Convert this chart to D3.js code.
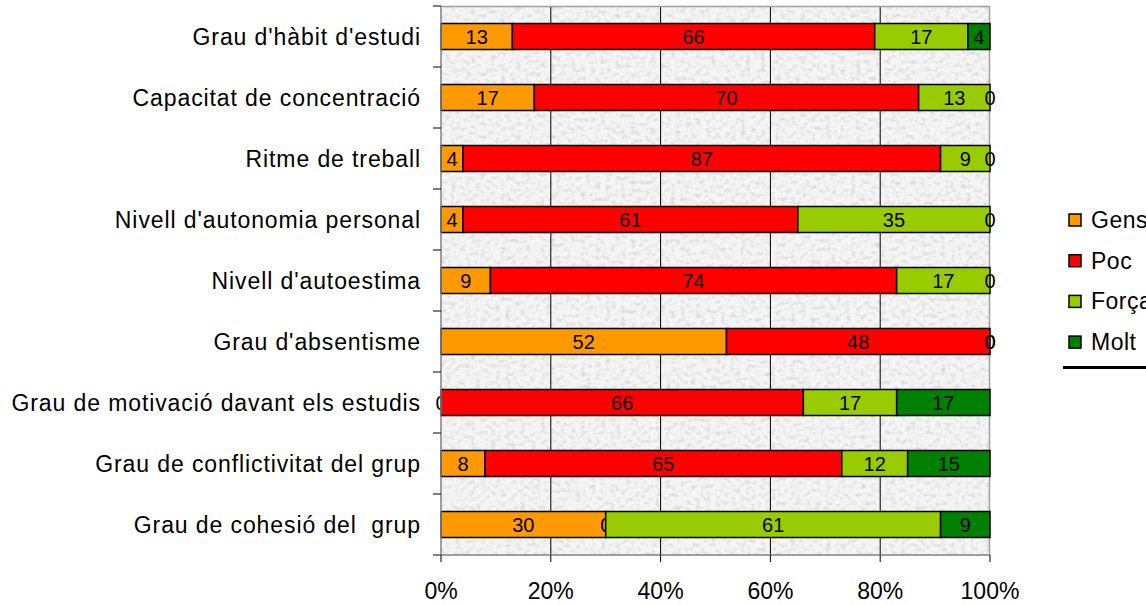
<!DOCTYPE html>
<html>
<head>
<meta charset="utf-8">
<script src="https://cdn.jsdelivr.net/npm/d3@7"></script>
<style>
  body { margin: 0; background: white; }
  svg { display: block; font-family: "Liberation Sans", Arial, sans-serif; }
</style>
</head>
<body>
<svg id="chart"></svg>
<script>
// categories, top to bottom
var categories = [
  "Grau d'hàbit d'estudi",
  "Capacitat de concentració",
  "Ritme de treball",
  "Nivell d'autonomia personal",
  "Nivell d'autoestima",
  "Grau d'absentisme",
  "Grau de motivació davant els estudis",
  "Grau de conflictivitat del grup",
  "Grau de cohesió del  grup"
];

var seriesNames = ["Gens", "Poc", "Força", "Molt"];
var seriesColors = ["#FF9900", "#FF0000", "#99CC00", "#008000"];

var gens  = [13, 17, 4, 4, 9, 52, 0, 8, 30];
var poc   = [66, 70, 87, 61, 74, 48, 66, 65, 0];
var forca = [17, 13, 9, 35, 17, 0, 17, 12, 61];
var molt  = [4, 0, 0, 0, 0, 0, 17, 15, 9];

var xTicks = [0, 20, 40, 60, 80, 100];

var W = 1146, H = 605;
var margin = {top: 6, left: 441, right: W - 990, bottom: H - 555};
var width = W - margin.left - margin.right,
    height = H - margin.top - margin.bottom;

var svg = d3.select("#chart").attr("width", W).attr("height", H);

// granite-like texture for the plot background
var defs = svg.append("defs");
var filt = defs.append("filter").attr("id", "granite")
  .attr("x", 0).attr("y", 0).attr("width", "100%").attr("height", "100%");
filt.append("feTurbulence")
  .attr("type", "fractalNoise").attr("baseFrequency", "0.2 0.24")
  .attr("numOctaves", 2).attr("seed", 11).attr("result", "noise");
filt.append("feColorMatrix").attr("in", "noise").attr("type", "matrix")
  .attr("values", "0 0 0 0 0  0 0 0 0 0  0 0 0 0 0  -1.6 0 0 0 0.88")
  .attr("result", "dark");
filt.append("feFlood").attr("flood-color", "#f5f5f5").attr("result", "base");
filt.append("feFlood").attr("flood-color", "#c8c8c8").attr("result", "tone");
filt.append("feComposite").attr("in", "tone").attr("in2", "dark")
  .attr("operator", "in").attr("result", "spots");
filt.append("feMerge").selectAll("feMergeNode")
  .data(["base", "spots"]).enter().append("feMergeNode").attr("in", d => d);

var x = d3.scaleLinear().domain([0, 100]).range([0, width]);
var y = d3.scaleBand().domain(categories).range([0, height]).paddingInner(0).paddingOuter(0);
var barH = 26;

var g = svg.append("g").attr("transform", "translate(" + margin.left + "," + margin.top + ")");

g.append("rect").attr("width", width).attr("height", height)
  .attr("filter", "url(#granite)");

// vertical gridlines
g.selectAll(".grid").data(xTicks.slice(1, -1)).enter().append("line")
  .attr("x1", d => x(d)).attr("x2", d => x(d))
  .attr("y1", 0).attr("y2", height)
  .attr("stroke", "#000").attr("stroke-width", 1);

// plot border (top, right)
g.append("path").attr("d", "M0,0.5H" + (width - 0.5) + "V" + height)
  .attr("fill", "none").attr("stroke", "#a0a0a0").attr("stroke-width", 1.5);

// stacked data
var table = categories.map((c, i) => ({cat: c, Gens: gens[i], Poc: poc[i], "Força": forca[i], Molt: molt[i]}));
var stack = d3.stack().keys(seriesNames)(table);

var layers = g.selectAll(".layer").data(stack).enter().append("g")
  .attr("fill", (d, i) => seriesColors[i]);

layers.selectAll("rect").data(d => d).enter().append("rect")
  .attr("x", d => x(d[0]))
  .attr("y", d => y(d.data.cat) + (y.bandwidth() - barH) / 2)
  .attr("width", d => x(d[1]) - x(d[0]))
  .attr("height", barH)
  .attr("stroke", "#000").attr("stroke-width", 1.5);

// value labels
layers.selectAll("text").data(d => d).enter().append("text")
  .attr("x", d => x((d[0] + d[1]) / 2))
  .attr("y", d => y(d.data.cat) + y.bandwidth() / 2 + 7)
  .attr("text-anchor", "middle")
  .attr("font-size", 20).attr("fill", "#000")
  .text(d => d[1] - d[0]);

// left axis
var yAxis = g.append("g");
yAxis.append("line").attr("x1", 0).attr("x2", 0).attr("y1", 0).attr("y2", height)
  .attr("stroke", "#808080").attr("stroke-width", 1.5);
var bounds = categories.map(c => y(c)).concat([height]);
yAxis.selectAll(".tk").data(bounds).enter().append("line")
  .attr("x1", -8).attr("x2", 0).attr("y1", d => d).attr("y2", d => d)
  .attr("stroke", "#000").attr("stroke-width", 1);
yAxis.selectAll("text").data(categories).enter().append("text")
  .attr("x", -20).attr("y", d => y(d) + y.bandwidth() / 2 + 8)
  .attr("text-anchor", "end").attr("font-size", 23).attr("letter-spacing", 0.9)
  .attr("fill", "#000")
  .style("white-space", "pre").attr("xml:space", "preserve")
  .text(d => d);

// bottom axis
var xAxis = g.append("g").attr("transform", "translate(0," + height + ")");
xAxis.append("line").attr("x1", -8).attr("x2", width).attr("y1", 0).attr("y2", 0)
  .attr("stroke", "#808080").attr("stroke-width", 1.5);
xAxis.selectAll(".tk").data(xTicks).enter().append("line")
  .attr("x1", d => x(d)).attr("x2", d => x(d)).attr("y1", 0).attr("y2", 7)
  .attr("stroke", "#000").attr("stroke-width", 1);
xAxis.selectAll("text").data(xTicks).enter().append("text")
  .attr("x", d => x(d)).attr("y", 44)
  .attr("text-anchor", "middle").attr("font-size", 23).attr("fill", "#000")
  .text(d => d + "%");

// legend
var legend = svg.append("g").attr("transform", "translate(1069,0)");
var lg = legend.selectAll("g").data(seriesNames).enter().append("g")
  .attr("transform", (d, i) => "translate(0," + (220 + i * 40.7) + ")");
lg.append("rect").attr("x", 0).attr("y", -6).attr("width", 12).attr("height", 12)
  .attr("fill", (d, i) => seriesColors[i]).attr("stroke", "#000").attr("stroke-width", 1.5);
lg.append("text").attr("x", 22).attr("y", 8).attr("font-size", 23).attr("letter-spacing", 0.5)
  .attr("fill", "#000")
  .text(d => d);
svg.append("line").attr("x1", 1063).attr("x2", W).attr("y1", 367.5).attr("y2", 367.5)
  .attr("stroke", "#000").attr("stroke-width", 3);
</script>
</body>
</html>
